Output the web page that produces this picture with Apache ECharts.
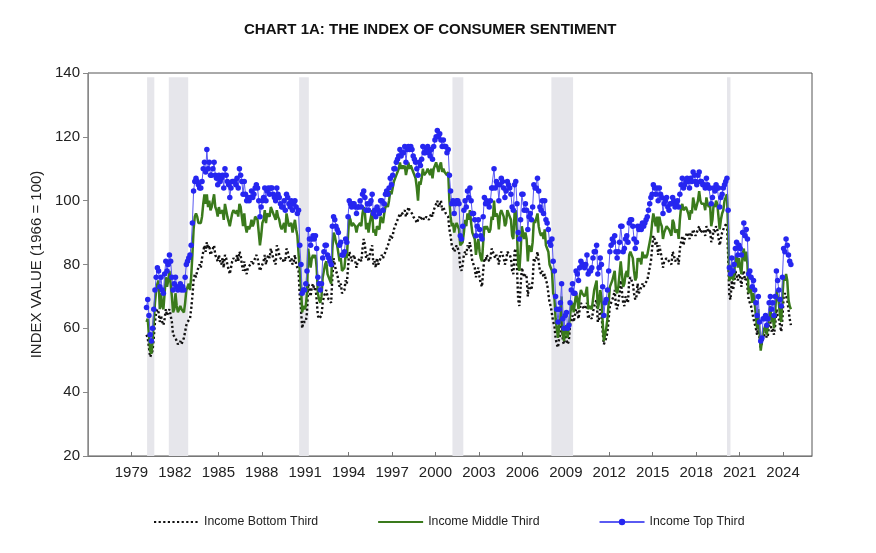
<!DOCTYPE html>
<html>
<head>
<meta charset="utf-8">
<script src="https://cdn.jsdelivr.net/npm/echarts@6/dist/echarts.min.js"></script>
<style>
html,body{margin:0;padding:0;background:#fff;}
#chart{width:876px;height:553px;}
</style>
</head>
<body>
<div id="chart"></div>
<script>
// Monthly data, Jan 1980 .. Jul 2024
const startYear = 1980;
const axisBase = 1976;
const xTickYears = [1979, 1982, 1985, 1988, 1991, 1994, 1997, 2000, 2003, 2006, 2009, 2012, 2015, 2018, 2021, 2024];
const yTicks = [20, 40, 60, 80, 100, 120, 140];
const seriesNames = ['Income Bottom Third', 'Income Middle Third', 'Income Top Third'];
// recession periods [start, end] in decimal years
const recessions = [[1980.08, 1980.58], [1981.58, 1982.92], [1990.58, 1991.25], [2001.17, 2001.92], [2008.0, 2009.5], [2020.13, 2020.37]];

const topThird = [
  66.5, 69, 64, 58, 56, 60, 66, 72, 76, 79, 78, 73, // 1980
  76, 72, 71, 77, 81, 78, 80, 83, 81, 76, 72, 74, // 1981
  76, 73, 72, 73, 74, 72, 73, 72, 76, 80, 81, 82, // 1982
  83, 86, 93, 103, 106, 107, 106, 105, 104, 104, 106, 110, // 1983
  112, 109, 116, 110, 112, 108, 108, 110, 112, 108, 107, 105, // 1984
  108, 106, 107, 108, 104, 110, 108, 106, 105, 101, 104, 106, // 1985
  106, 106, 105, 107, 104, 110, 108, 106, 102, 106, 102, 100, // 1986
  101, 100, 101, 103, 101, 102, 104, 105, 104, 100, 95, 98, // 1987
  100, 101, 104, 100, 103, 104, 102, 104, 104, 102, 101, 100, // 1988
  104, 102, 101, 99, 98, 98, 100, 97, 102, 101, 99, 98, // 1989
  100, 97, 99, 100, 98, 96, 97, 86, 80, 71, 72, 72, // 1990
  74, 78, 91, 88, 86, 88, 89, 88, 89, 85, 76, 74, // 1991
  72, 74, 82, 84, 86, 86, 83, 82, 81, 80, 92, 95, // 1992
  94, 92, 91, 90, 86, 87, 83, 83, 84, 88, 87, 95, // 1993
  100, 99, 98, 99, 99, 98, 96, 98, 98, 100, 98, 102, // 1994
  103, 101, 97, 99, 97, 99, 100, 102, 96, 97, 95, 98, // 1995
  97, 96, 100, 100, 97, 99, 102, 103, 102, 104, 107, 105, // 1996
  108, 110, 110, 112, 113, 114, 116, 114, 115, 115, 117, 112, // 1997
  116, 117, 116, 117, 116, 114, 113, 112, 110, 108, 112, 111, // 1998
  113, 117, 115, 115, 116, 117, 115, 114, 116, 113, 117, 119, // 1999
  120, 122, 120, 121, 119, 117, 119, 117, 117, 115, 116, 108, // 2000
  103, 99, 100, 96, 99, 100, 100, 99, 89, 88, 92, 97, // 2001
  100, 98, 103, 101, 104, 100, 96, 96, 94, 89, 92, 94, // 2002
  91, 89, 88, 95, 101, 99, 100, 99, 98, 100, 104, 104, // 2003
  110, 104, 106, 105, 100, 105, 107, 106, 104, 101, 103, 106, // 2004
  105, 104, 102, 98, 97, 105, 106, 99, 90, 88, 94, 102, // 2005
  102, 97, 99, 97, 91, 95, 96, 94, 98, 105, 104, 104, // 2006
  107, 103, 98, 97, 100, 96, 100, 94, 93, 91, 87, 86, // 2007
  88, 81, 78, 70, 66, 62, 66, 68, 74, 63, 60, 64, // 2008
  65, 60, 61, 68, 72, 74, 71, 71, 78, 77, 75, 79, // 2009
  81, 80, 80, 79, 80, 83, 77, 78, 78, 79, 82, 84, // 2010
  84, 86, 77, 79, 82, 80, 73, 64, 68, 69, 72, 78, // 2011
  84, 86, 88, 87, 89, 84, 82, 84, 87, 92, 92, 84, // 2012
  85, 88, 89, 87, 93, 94, 94, 92, 88, 85, 87, 92, // 2013
  91, 92, 91, 93, 92, 93, 94, 95, 97, 99, 101, 102, // 2014
  105, 104, 102, 104, 100, 104, 102, 101, 96, 99, 100, 101, // 2015
  98, 97, 99, 99, 101, 100, 98, 99, 100, 98, 102, 105, // 2016
  107, 104, 105, 106, 107, 106, 104, 107, 106, 109, 108, 106, // 2017
  105, 108, 109, 106, 106, 105, 105, 104, 107, 105, 104, 104, // 2018
  99, 101, 104, 103, 105, 104, 104, 98, 101, 102, 104, 105, // 2019
  106, 107, 97, 79, 77, 82, 78, 80, 85, 87, 83, 86, // 2020
  85, 83, 90, 93, 89, 91, 88, 77, 78, 76, 73, 75, // 2021
  72, 68, 64, 70, 62, 56, 57, 63, 63, 64, 61, 63, // 2022
  68, 70, 66, 68, 64, 70, 78, 75, 72, 69, 67, 76, // 2023
  85, 84, 88, 86, 83, 81, 80 // 2024
];

const middleThird = [
  62, 63, 58, 53, 52, 56, 62, 68, 72, 74, 75, 66, // 1980
  71, 67, 66, 71, 76, 73, 75, 78, 74, 70, 65, 66, // 1981
  71, 67, 65, 66, 67, 66, 66, 65, 68, 72, 73, 74, // 1982
  72, 76, 83, 91, 95, 96, 95, 93, 93, 93, 95, 99, // 1983
  102, 99, 102, 98, 100, 97, 98, 100, 102, 98, 97, 95, // 1984
  98, 96, 96, 97, 94, 99, 97, 95, 95, 92, 94, 96, // 1985
  97, 97, 96, 97, 95, 99, 98, 95, 92, 96, 92, 90, // 1986
  92, 91, 92, 94, 92, 93, 95, 95, 94, 90, 86, 89, // 1987
  93, 94, 97, 93, 96, 96, 95, 98, 98, 96, 95, 94, // 1988
  97, 95, 94, 92, 91, 91, 93, 90, 96, 94, 92, 92, // 1989
  93, 90, 92, 94, 91, 89, 89, 78, 73, 65, 67, 66, // 1990
  67, 71, 85, 82, 79, 82, 83, 82, 83, 79, 71, 69, // 1991
  68, 70, 76, 78, 80, 81, 77, 76, 76, 74, 85, 90, // 1992
  89, 87, 86, 86, 81, 82, 78, 78, 79, 83, 82, 89, // 1993
  95, 94, 92, 93, 93, 92, 90, 92, 92, 93, 92, 96, // 1994
  98, 96, 91, 93, 90, 93, 95, 97, 90, 91, 89, 92, // 1995
  92, 91, 95, 95, 93, 96, 98, 99, 98, 100, 103, 102, // 1996
  104, 106, 107, 108, 109, 110, 112, 110, 111, 110, 111, 108, // 1997
  110, 112, 110, 111, 110, 109, 108, 107, 104, 100, 106, 105, // 1998
  107, 110, 108, 108, 109, 110, 109, 108, 110, 107, 110, 110, // 1999
  112, 112, 109, 111, 112, 109, 110, 109, 109, 108, 109, 100, // 2000
  95, 92, 93, 90, 92, 93, 92, 91, 86, 86, 87, 90, // 2001
  94, 92, 96, 94, 97, 93, 90, 89, 88, 83, 86, 88, // 2002
  84, 82, 81, 87, 92, 91, 92, 91, 90, 91, 95, 94, // 2003
  100, 95, 96, 95, 91, 96, 97, 96, 95, 92, 93, 97, // 2004
  96, 95, 94, 89, 88, 96, 97, 90, 80, 78, 84, 92, // 2005
  92, 88, 90, 88, 81, 86, 86, 84, 87, 94, 93, 93, // 2006
  96, 92, 90, 89, 90, 88, 91, 86, 86, 84, 80, 79, // 2007
  78, 71, 70, 63, 60, 57, 61, 63, 70, 58, 56, 60, // 2008
  61, 57, 57, 64, 67, 68, 65, 65, 71, 69, 66, 70, // 2009
  72, 71, 71, 70, 71, 73, 66, 67, 67, 66, 69, 72, // 2010
  72, 75, 66, 68, 72, 70, 62, 56, 58, 60, 63, 68, // 2011
  73, 74, 75, 75, 78, 72, 71, 73, 77, 81, 81, 73, // 2012
  74, 77, 78, 76, 83, 84, 84, 82, 78, 75, 76, 82, // 2013
  81, 82, 80, 84, 82, 83, 82, 83, 85, 87, 89, 93, // 2014
  96, 94, 92, 95, 90, 95, 93, 92, 88, 90, 91, 92, // 2015
  92, 91, 91, 89, 94, 93, 90, 90, 91, 88, 94, 98, // 2016
  99, 97, 97, 98, 98, 96, 94, 97, 96, 101, 99, 97, // 2017
  97, 100, 103, 100, 99, 99, 99, 97, 101, 99, 98, 99, // 2018
  92, 94, 99, 98, 100, 99, 99, 91, 94, 96, 97, 100, // 2019
  101, 102, 91, 75, 76, 80, 75, 77, 82, 83, 79, 82, // 2020
  79, 77, 83, 85, 81, 84, 80, 71, 73, 72, 68, 71, // 2021
  68, 64, 60, 66, 59, 53, 53, 59, 60, 61, 58, 61, // 2022
  65, 67, 62, 64, 60, 65, 72, 70, 68, 64, 62, 70, // 2023
  76, 75, 77, 75, 69, 67, 66 // 2024
];

const bottomThird = [
  58, 57, 54, 51, 51, 53, 57, 62, 65, 66, 65, 62, // 1980
  64, 62, 61, 63, 66, 64, 65, 66, 64, 62, 58, 58, // 1981
  57, 56, 55, 55, 56, 55, 56, 57, 59, 61, 62, 62, // 1982
  63, 66, 70, 75, 77, 76, 78, 79, 80, 79, 82, 84, // 1983
  86, 84, 87, 85, 86, 83, 84, 85, 86, 83, 82, 81, // 1984
  83, 81, 80, 82, 79, 83, 82, 80, 80, 77, 79, 81, // 1985
  82, 82, 81, 83, 81, 84, 83, 80, 78, 81, 78, 77, // 1986
  79, 79, 80, 81, 80, 80, 82, 83, 82, 80, 78, 79, // 1987
  80, 81, 83, 80, 82, 83, 82, 85, 85, 82, 81, 80, // 1988
  86, 85, 83, 82, 82, 81, 82, 81, 85, 84, 82, 81, // 1989
  82, 80, 81, 83, 80, 79, 78, 70, 66, 60, 62, 62, // 1990
  62, 65, 74, 72, 70, 73, 74, 72, 73, 69, 64, 63, // 1991
  63, 64, 68, 70, 71, 72, 70, 69, 69, 68, 76, 82, // 1992
  80, 78, 77, 77, 73, 74, 71, 71, 72, 75, 74, 79, // 1993
  84, 83, 81, 82, 83, 81, 79, 81, 81, 82, 81, 85, // 1994
  88, 86, 82, 83, 81, 83, 85, 86, 80, 81, 79, 82, // 1995
  80, 80, 82, 83, 82, 83, 84, 85, 86, 87, 89, 88, // 1996
  89, 91, 92, 93, 94, 95, 96, 95, 96, 96, 97, 95, // 1997
  96, 98, 97, 97, 96, 95, 95, 94, 93, 94, 95, 94, // 1998
  94, 95, 94, 94, 95, 95, 94, 94, 96, 95, 97, 98, // 1999
  99, 100, 98, 99, 100, 97, 98, 97, 96, 96, 95, 91, // 2000
  89, 86, 86, 84, 85, 86, 85, 84, 79, 78, 80, 83, // 2001
  84, 83, 86, 85, 87, 84, 81, 80, 79, 76, 78, 79, // 2002
  76, 74, 73, 78, 82, 81, 83, 82, 81, 82, 85, 84, // 2003
  84, 82, 83, 82, 80, 83, 84, 83, 82, 80, 81, 84, // 2004
  84, 83, 82, 78, 77, 84, 85, 79, 69, 67, 73, 79, // 2005
  79, 76, 77, 76, 70, 74, 74, 72, 75, 82, 81, 82, // 2006
  84, 81, 78, 77, 78, 76, 77, 75, 74, 71, 68, 67, // 2007
  67, 62, 61, 57, 55, 54, 57, 58, 63, 56, 55, 58, // 2008
  58, 55, 56, 61, 63, 64, 62, 62, 66, 65, 63, 66, // 2009
  68, 67, 67, 66, 67, 68, 63, 64, 64, 63, 65, 67, // 2010
  67, 69, 62, 63, 66, 65, 59, 55, 56, 57, 59, 63, // 2011
  67, 68, 69, 70, 72, 67, 66, 68, 71, 75, 75, 68, // 2012
  67, 70, 70, 68, 75, 76, 76, 74, 71, 69, 70, 74, // 2013
  71, 72, 72, 74, 73, 74, 74, 75, 77, 79, 81, 85, // 2014
  89, 88, 86, 87, 83, 86, 84, 82, 79, 81, 81, 82, // 2015
  82, 81, 81, 80, 84, 83, 81, 81, 82, 80, 85, 87, // 2016
  89, 86, 88, 89, 90, 89, 88, 90, 89, 91, 90, 89, // 2017
  89, 91, 92, 90, 90, 91, 90, 89, 92, 91, 90, 91, // 2018
  87, 88, 91, 90, 92, 91, 91, 86, 88, 90, 90, 92, // 2019
  92, 93, 83, 70, 69, 75, 72, 74, 78, 78, 75, 77, // 2020
  76, 73, 77, 78, 75, 76, 73, 69, 68, 67, 65, 63, // 2021
  63, 60, 58, 61, 57, 54, 54, 57, 58, 59, 57, 58, // 2022
  61, 62, 59, 60, 58, 61, 66, 64, 63, 61, 59, 63, // 2023
  70, 71, 70, 69, 66, 63, 61 // 2024
];

// position of month i (0 = Jan 1980) on the axis, in years after axisBase
function monthPos(i) { return startYear - axisBase + (i + 0.5) / 12; }
function toPairs(arr) { return arr.map((v, i) => [monthPos(i), v]); }

const FONT = '"Liberation Sans", Arial, sans-serif';
const chart = echarts.init(document.getElementById('chart'), null, {renderer: 'canvas'});
const hiddenSymbol = {color: 'rgba(0,0,0,0)', borderColor: 'rgba(0,0,0,0)', borderWidth: 0, opacity: 0};

const option = {
  backgroundColor: '#ffffff',
  animation: false,
  title: {
    text: 'CHART 1A: THE INDEX OF CONSUMER SENTIMENT',
    left: 239, top: 17,
    textStyle: {fontFamily: FONT, fontSize: 15, fontWeight: 'bold', color: '#111'}
  },
  grid: {left: 88, right: 64, top: 73, bottom: 97, show: true, borderColor: '#555', borderWidth: 1, backgroundColor: 'transparent'},
  legend: {
    left: 153, top: 516, padding: 0,
    itemWidth: 45, itemHeight: 8, itemGap: 59,
    textStyle: {fontFamily: FONT, fontSize: 12.3, color: '#222'},
    data: [
      {name: seriesNames[0], itemStyle: hiddenSymbol},
      {name: seriesNames[1], itemStyle: hiddenSymbol},
      {name: seriesNames[2]}
    ]
  },
  xAxis: {
    type: 'value', min: 0, max: 50, interval: 3,
    axisLine: {show: true, lineStyle: {color: '#777', width: 1}},
    axisTick: {show: true, inside: true, length: 4, lineStyle: {color: '#777'}},
    splitLine: {show: false},
    axisLabel: {
      show: true, margin: 9, fontFamily: FONT, fontSize: 15, color: '#222',
      showMinLabel: false, showMaxLabel: false,
      formatter: function (v) {
        const y = Math.round(v + axisBase);
        return xTickYears.indexOf(y) >= 0 ? String(y) : '';
      }
    }
  },
  yAxis: {
    type: 'value', min: yTicks[0], max: yTicks[yTicks.length - 1], interval: 20,
    name: 'INDEX VALUE (1966 = 100)', nameLocation: 'middle', nameGap: 41, nameRotate: 90,
    nameTextStyle: {fontFamily: FONT, fontSize: 15, color: '#222'},
    axisLine: {show: true, lineStyle: {color: '#888', width: 1}},
    axisTick: {show: true, inside: false, length: 5, lineStyle: {color: '#888'}},
    splitLine: {show: false},
    axisLabel: {margin: 8, fontFamily: FONT, fontSize: 15, color: '#222'}
  },
  series: [
    {
      name: seriesNames[0], type: 'line', data: toPairs(bottomThird),
      symbol: 'none', showSymbol: false, z: 3,
      lineStyle: {color: '#111', width: 2.4, type: [2.2, 2.4]},
      itemStyle: {color: '#111'},
      markArea: {
        silent: true,
        itemStyle: {color: '#e6e6eb'},
        data: recessions.map(r => [{xAxis: r[0] - axisBase, yAxis: 20}, {xAxis: r[1] - axisBase, yAxis: 138.7}])
      }
    },
    {
      name: seriesNames[1], type: 'line', data: toPairs(middleThird),
      symbol: 'none', showSymbol: false, z: 4,
      lineStyle: {color: '#3a7a1c', width: 2.5},
      itemStyle: {color: '#3a7a1c'}
    },
    {
      name: seriesNames[2], type: 'line', data: toPairs(topThird),
      symbol: 'circle', symbolSize: 5.5, showSymbol: true, z: 5,
      lineStyle: {color: '#5a5af2', width: 1},
      itemStyle: {color: '#2626f0', borderWidth: 0}
    }
  ]
};
chart.setOption(option);
</script>
</body>
</html>
